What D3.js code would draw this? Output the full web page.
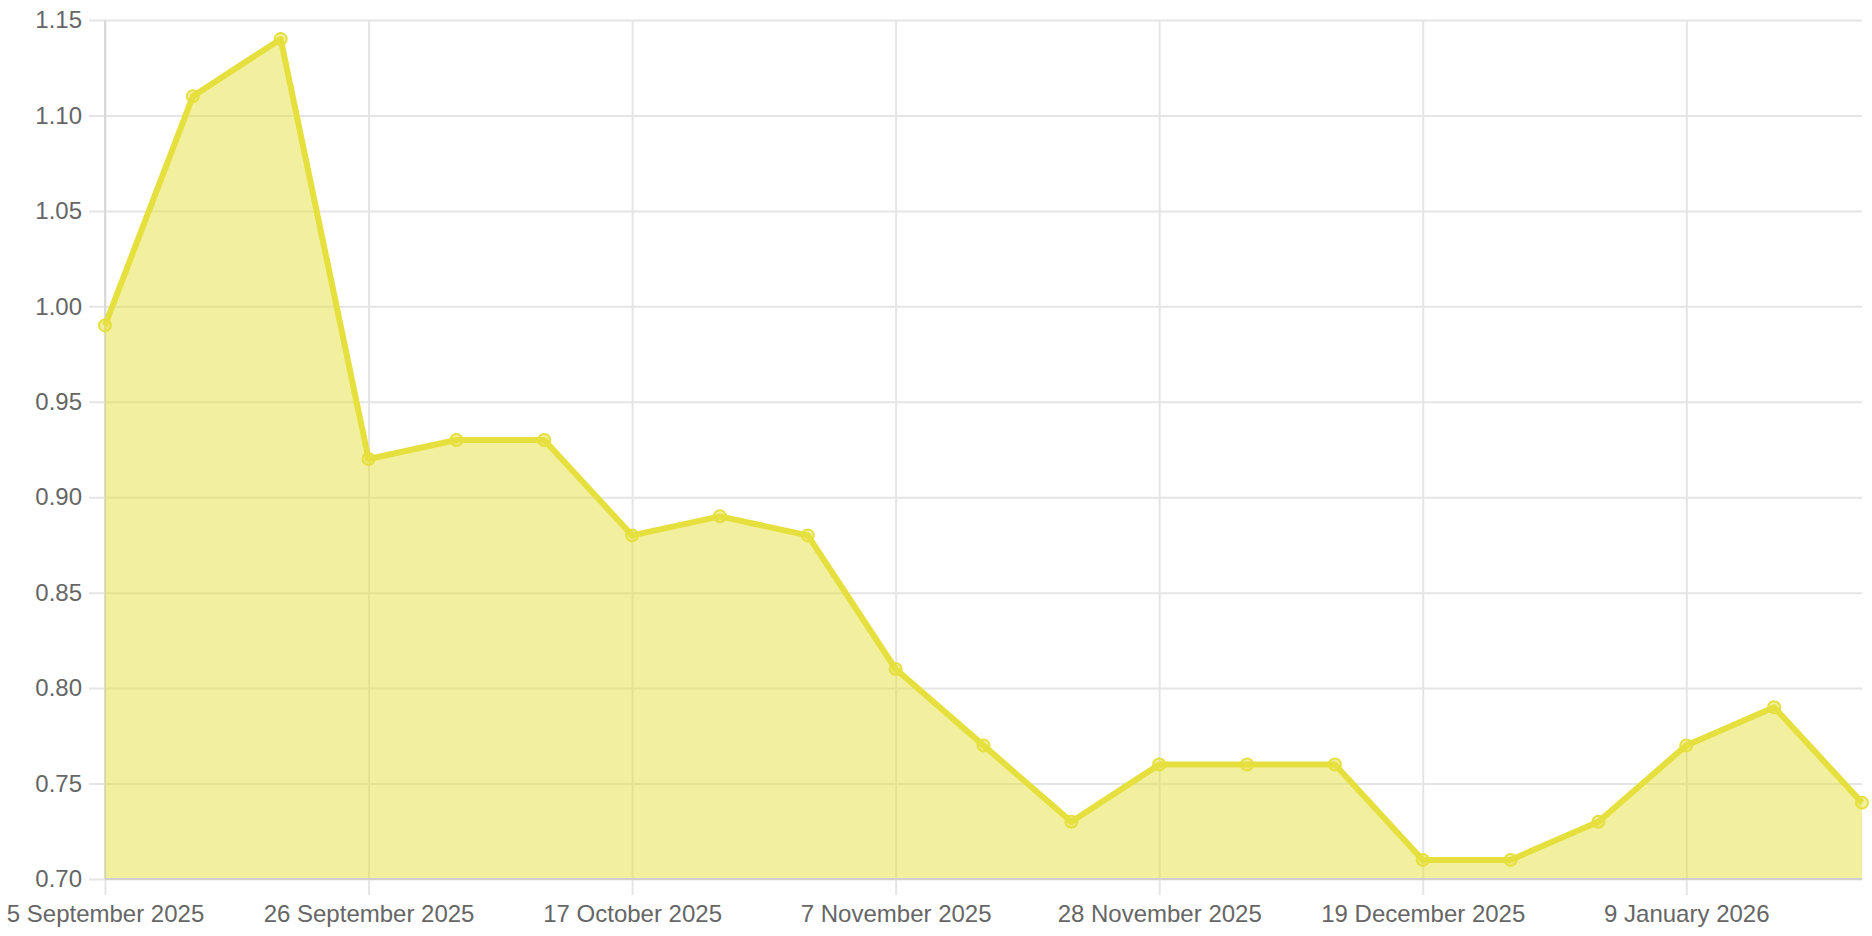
<!DOCTYPE html>
<html>
<head>
<meta charset="utf-8">
<script src="https://cdn.jsdelivr.net/npm/d3@7/dist/d3.min.js"></script>
<style>
html,body{margin:0;padding:0;background:#fff;}
svg{display:block;}
</style>
</head>
<body>
<svg id="chart" width="1872" height="936"></svg>
<script>
const dates = ["2025-09-05","2025-09-12","2025-09-19","2025-09-26","2025-10-03","2025-10-10","2025-10-17","2025-10-24","2025-10-31","2025-11-07","2025-11-14","2025-11-21","2025-11-28","2025-12-05","2025-12-12","2025-12-19","2025-12-26","2026-01-02","2026-01-09","2026-01-16","2026-01-23"];
const values = [0.99,1.11,1.14,0.92,0.93,0.93,0.88,0.89,0.88,0.81,0.77,0.73,0.76,0.76,0.76,0.71,0.71,0.73,0.77,0.79,0.74];
const yTicks = [0.70,0.75,0.80,0.85,0.90,0.95,1.00,1.05,1.10,1.15];
const xTickDates = ["2025-09-05","2025-09-26","2025-10-17","2025-11-07","2025-11-28","2025-12-19","2026-01-09"];

(function(){
const parse = d3.utcParse("%Y-%m-%d");
const fmt = d3.utcFormat("%-d %B %Y");
const data = dates.map((d,i)=>({date:parse(d), value:values[i]}));

const mL=105, mR=1862, mT=20, mB=879;
const svg = d3.select("#chart");
const x = d3.scaleUtc().domain([parse(dates[0]), parse(dates[dates.length-1])]).range([mL,mR]);
const y = d3.scaleLinear().domain([0.70,1.15]).range([mB,mT]);

const font = "'Helvetica Neue', Helvetica, Arial, 'Liberation Sans', sans-serif";
const gridColor = "#e5e5e5";

// horizontal grid
const yAxis = d3.axisLeft(y).tickValues(yTicks).tickFormat(d3.format(".2f"))
  .tickSize(-(mR-mL)).tickSizeOuter(0).tickPadding(0);
const gy = svg.append("g").attr("transform",`translate(${mL},0)`).call(yAxis);
gy.select(".domain").remove();
gy.selectAll(".tick line").attr("stroke",gridColor).attr("stroke-width",2).attr("x1",-16);
gy.selectAll(".tick text").attr("x",-23).attr("fill","#666").style("font-family",font).style("font-size","24px");

// vertical grid
const xAxis = d3.axisBottom(x).tickValues(xTickDates.map(parse)).tickFormat(fmt)
  .tickSize(-(mB-mT)).tickSizeOuter(0).tickPadding(0);
const gx = svg.append("g").attr("transform",`translate(0,${mB})`).call(xAxis);
gx.select(".domain").remove();
gx.selectAll(".tick line").attr("stroke",gridColor).attr("stroke-width",2).attr("y2",16).attr("y1",-(mB-mT));
gx.selectAll(".tick text").attr("y",26).attr("dy","0.71em").attr("fill","#666").style("font-family",font).style("font-size","24px");

// left border
svg.append("line").attr("x1",mL).attr("x2",mL).attr("y1",mT).attr("y2",mB).attr("stroke","#d9d9d9").attr("stroke-width",2);

// area
const area = d3.area().x(d=>x(d.date)).y0(mB).y1(d=>y(d.value));
svg.append("path").datum(data).attr("d",area).attr("fill","rgba(229,224,62,0.5)");

svg.append("line").attr("x1",mL).attr("x2",mR).attr("y1",mB).attr("y2",mB).attr("stroke","#cfcfcf").attr("stroke-width",2);

// line
const line = d3.line().x(d=>x(d.date)).y(d=>y(d.value));
svg.append("path").datum(data).attr("d",line).attr("fill","none").attr("stroke","#e5e03e").attr("stroke-width",6).attr("stroke-linejoin","round");

// points
svg.append("g").selectAll("circle").data(data).join("circle")
  .attr("cx",d=>x(d.date)).attr("cy",d=>y(d.value)).attr("r",6)
  .attr("fill","rgba(229,224,62,0.5)").attr("stroke","#e5e03e").attr("stroke-width",2);
})();
</script>
</body>
</html>
